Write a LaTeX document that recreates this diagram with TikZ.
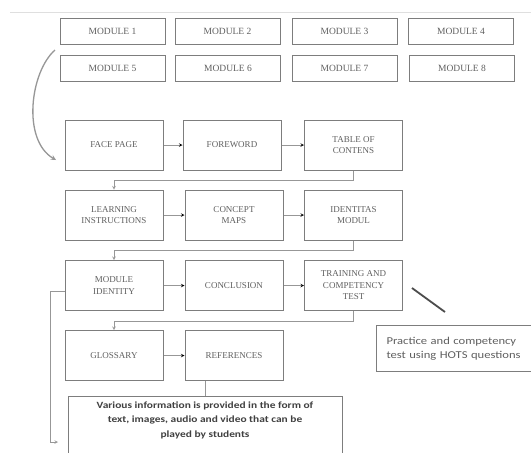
\documentclass[tikz,border=0pt]{standalone}
\usepackage{fontspec}
\setmainfont{Carlito}
\newfontfamily\widesans[FakeStretch=1.2]{Carlito}
\newfontfamily\capserif{Liberation Serif}
\definecolor{boxgray}{RGB}{125,125,125}
\definecolor{txtgray}{RGB}{95,95,95}
\tikzset{
  modbox/.style={rectangle,draw=boxgray,line width=1pt,minimum width=105pt,minimum height=26pt,inner sep=1pt,font=\capserif\fontsize{9.5}{10}\selectfont,text=txtgray},
  flowbox/.style={rectangle,draw=boxgray,line width=1pt,minimum width=98pt,minimum height=50pt,inner sep=1pt,align=center,font=\capserif\fontsize{9}{11.5}\selectfont,text=txtgray},
  link/.style={draw=boxgray!80,line width=0.6pt,-stealth}
}
\begin{document}
\begin{tikzpicture}[x=1pt,y=-1pt]
  \clip (0,0) rectangle (531,453);
  \useasboundingbox (0,0) rectangle (531,453);
  \fill[white] (0,0) rectangle (531,453);
  \draw [gray!25,line width=1pt] (10,12) -- (531,12);

	% modules
        \node at (112.5,31) [modbox] (m1) {MODULE 1};
        \node at (227.5,31) [modbox] (m2) {MODULE 2};
        \node at (344.5,31) [modbox] (m3) {MODULE 3};
        \node at (461,31) [modbox] (m4) {MODULE 4};
        \node at (112.5,68) [modbox] (m5) {MODULE 5};
        \node at (228,68) [modbox] (m6) {MODULE 6};
        \node at (344.5,68) [modbox] (m7) {MODULE 7};
        \node at (462,68) [modbox] (m8) {MODULE 8};

	% flow
        \node at (114,145) [flowbox] (face) {FACE PAGE};
        \node at (232,145) [flowbox] (fore) {FOREWORD};
        \node at (353.5,145) [flowbox] (toc) {TABLE OF\\CONTENS};

        \node at (114,215) [flowbox] (learn) {LEARNING\\INSTRUCTIONS};
        \node at (234,215) [flowbox] (map) {CONCEPT\\MAPS};
        \node at (353.5,215) [flowbox] (ident) {IDENTITAS\\MODUL};

        \node at (114,285.5) [flowbox] (modid) {MODULE\\IDENTITY};
        \node at (234,285.5) [flowbox] (concl) {CONCLUSION};
        \node at (353.5,285.5) [flowbox] (train) {TRAINING AND\\COMPETENCY\\TEST};

        \node at (114,355.5) [flowbox] (gloss) {GLOSSARY};
        \node at (234,355.5) [flowbox] (ref) {REFERENCES};

        \node at (205,396) [anchor=north,rectangle,draw=boxgray,line width=1pt,minimum width=274pt,minimum height=70pt,
              align=center,inner sep=5pt,font=\widesans\bfseries\fontsize{9.5}{14.5}\selectfont,text=black!75] (info)
              {Various information is provided in the form of\\text, images, audio and video that can be\\played by students\\[10pt]};

        \node at (376,325) [anchor=north west,rectangle,draw=boxgray,line width=1pt,minimum width=170pt,minimum height=46pt,
              text width=150pt,align=left,font=\widesans\fontsize{10.5}{14}\selectfont,text=txtgray] (hots)
              {Practice and competency\\test using HOTS questions};

	\coordinate (cstart) at (55,50);
	\coordinate (cend) at (56,160);
	\coordinate (lft) at (50,291);
	\coordinate (lfb) at (50,442);
	\coordinate (lfe) at (58,442);
	\coordinate (sl1) at (412,288);
	\coordinate (sl2) at (445,312);

     \draw [boxgray!80,line width=1.3pt,-stealth] (cstart) .. controls (30,72) and (22,140) .. (cend);

     \draw [link] (face) edge (fore);
     \draw [link] (fore) edge (toc);
     \draw [link] (learn) edge (map);
     \draw [link] (map) edge (ident);
     \draw [link] (modid) edge (concl);
     \draw [link] (concl) edge (train);
     \draw [link] (gloss) edge (ref);

     \draw [link] (toc.south) -- ++(0,10) -| (learn.north);
     \draw [link] (ident.south) -- ++(0,10) -| (learn.north |- modid.north);
     \draw [link] (train.south) -- ++(0,10) -| (gloss.north);
     \draw [draw=boxgray!80,line width=0.6pt] (ref.south -| info.north) -- (info.north);
     \draw [draw=boxgray!80,line width=0.6pt,-stealth] (modid.west |- lft) -- (lft) -- (lfb) -- (lfe);
     \draw [black!70,line width=1.8pt] (sl1) -- (sl2);
\end{tikzpicture}
\end{document}
